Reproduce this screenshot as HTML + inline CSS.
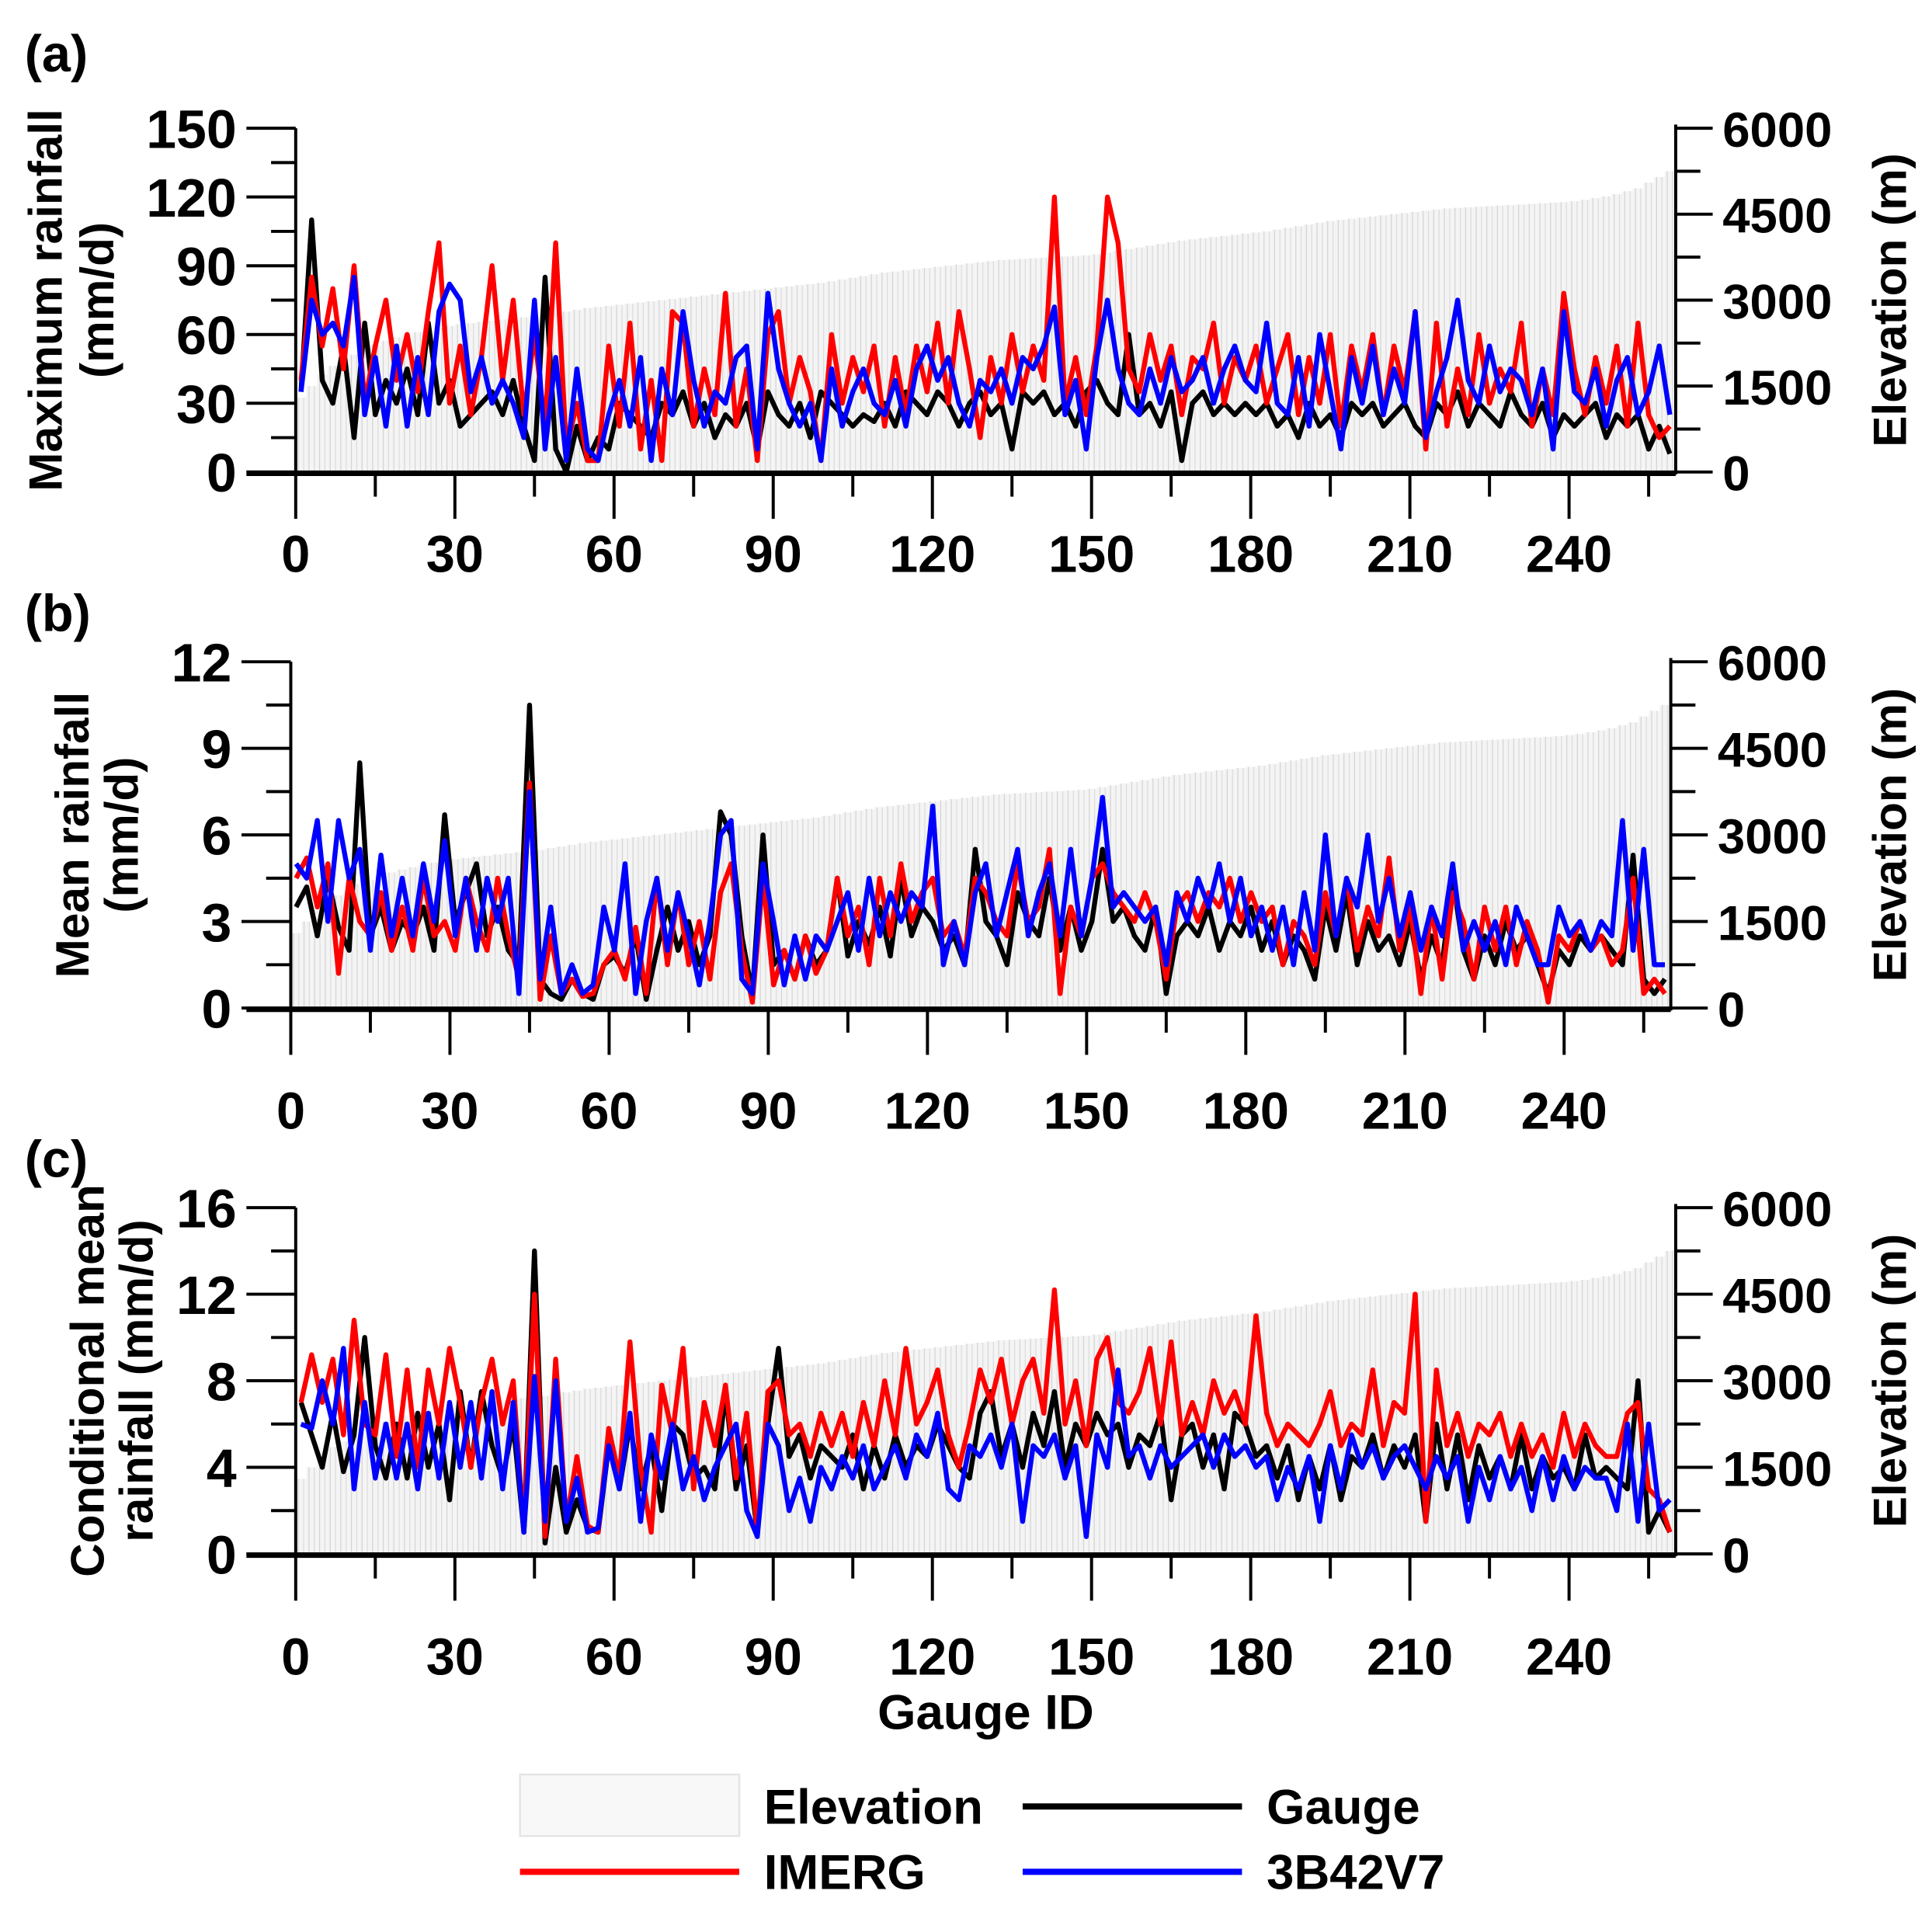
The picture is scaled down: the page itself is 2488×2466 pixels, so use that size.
<!DOCTYPE html>
<html><head><meta charset="utf-8"><style>
html,body{margin:0;padding:0;background:#fff}
svg{display:block}
text{font-family:"Liberation Sans",Arial,sans-serif;font-weight:bold;fill:#000}
</style></head><body>
<svg id="chart" width="2488" height="2466" viewBox="0 0 1568 1554" xmlns="http://www.w3.org/2000/svg">
<g id="legend">
<rect x="422" y="1440" width="178" height="50" fill="#f8f8f8" stroke="#e4e4e4" stroke-width="1.5"/>
<text x="620" y="1480" font-size="40">Elevation</text>
<line x1="830" y1="1466" x2="1008" y2="1466" stroke="#000" stroke-width="5"/>
<text x="1028" y="1480" font-size="40">Gauge</text>
<line x1="422" y1="1519" x2="600" y2="1519" stroke="#ff0000" stroke-width="5"/>
<text x="620" y="1533" font-size="40">IMERG</text>
<line x1="830" y1="1519" x2="1008" y2="1519" stroke="#0000ff" stroke-width="5"/>
<text x="1028" y="1533" font-size="40">3B42V7</text>
</g>
<text x="800" y="1403" font-size="40" text-anchor="middle">Gauge ID</text>
</svg>
<script>
const gaugeIds = [1,3,5,7,9,11,13,15,17,19,21,23,25,27,29,31,33,35,37,39,41,43,45,47,49,51,53,55,57,59,61,63,65,67,69,71,73,75,77,79,81,83,85,87,89,91,93,95,97,99,101,103,105,107,109,111,113,115,117,119,121,123,125,127,129,131,133,135,137,139,141,143,145,147,149,151,153,155,157,159,161,163,165,167,169,171,173,175,177,179,181,183,185,187,189,191,193,195,197,199,201,203,205,207,209,211,213,215,217,219,221,223,225,227,229,231,233,235,237,239,241,243,245,247,249,251,253,255,257,259];
const elevation = [1300,1500,1700,1850,1950,2050,2150,2220,2290,2350,2400,2440,2480,2520,2550,2580,2600,2620,2640,2660,2680,2700,2720,2740,2770,2800,2830,2860,2880,2900,2920,2940,2960,2980,3000,3020,3040,3060,3080,3100,3120,3140,3160,3180,3200,3220,3240,3260,3280,3300,3330,3360,3390,3420,3450,3480,3500,3520,3540,3560,3580,3600,3620,3640,3660,3680,3700,3710,3720,3730,3740,3750,3760,3770,3780,3800,3830,3860,3890,3920,3950,3980,4010,4040,4060,4080,4100,4120,4140,4160,4180,4200,4230,4260,4290,4320,4350,4380,4400,4420,4440,4460,4480,4500,4520,4540,4560,4580,4600,4610,4620,4630,4640,4650,4660,4670,4680,4690,4700,4710,4730,4750,4780,4810,4850,4900,4950,5050,5150,5250];

const maxGauge = [35,110,40,30,55,15,65,25,40,30,45,25,65,30,40,20,25,30,35,25,40,20,5,85,10,0,20,5,15,10,30,25,20,15,30,25,35,20,30,15,25,20,30,10,35,25,20,30,15,35,30,25,20,25,22,30,20,35,30,25,35,30,20,30,35,25,30,10,35,30,35,25,30,20,35,40,30,25,60,25,30,20,35,5,30,35,25,30,25,30,25,30,20,25,15,30,20,25,15,30,25,30,20,25,30,20,15,30,25,35,20,30,25,20,35,25,20,30,15,25,20,25,30,15,25,20,25,10,20,8];
const maxImerg = [40,85,55,80,45,90,30,55,75,40,60,35,70,100,30,55,25,50,90,40,75,25,60,20,100,10,30,5,5,55,20,65,10,40,5,70,65,20,45,25,78,20,45,5,60,70,30,50,35,5,60,30,50,35,55,20,50,25,55,35,65,30,70,45,15,50,30,60,35,55,40,120,30,50,25,55,120,100,45,35,60,40,55,25,50,45,65,30,50,40,55,30,45,60,25,50,30,60,20,55,35,60,25,55,35,70,10,65,20,45,25,60,30,45,35,65,20,45,25,78,45,25,50,30,55,20,65,25,15,20];
const max3b42 = [35,75,60,65,55,85,25,50,20,55,20,50,25,70,82,75,35,50,30,40,30,15,75,10,50,5,45,10,5,25,40,20,50,5,45,25,70,40,20,35,30,50,55,10,78,45,30,20,30,5,45,20,35,45,30,25,40,20,45,55,40,50,30,20,40,35,45,30,50,45,55,72,25,40,10,50,75,45,30,25,45,30,50,35,40,50,30,45,55,40,35,65,30,25,50,20,60,35,10,50,30,55,25,45,30,70,15,35,50,75,40,30,55,35,45,40,25,45,10,70,35,30,45,20,40,50,25,35,55,25];

const meanGauge = [3.5,4.2,2.5,4.5,2.8,2.0,8.5,2.5,3.5,2.0,3.0,2.5,3.5,2.0,6.7,3.0,4.0,5.0,2.5,3.5,2.0,1.5,10.5,1.0,0.5,0.3,1.0,0.5,0.3,1.5,1.8,1.2,2.5,0.3,2.0,3.5,2.0,3.0,1.5,2.5,6.8,6.0,2.5,0.5,6.0,1.5,2.0,1.0,2.5,1.5,2.0,4.5,1.8,3.0,2.2,3.5,1.8,4.5,2.5,3.5,3.0,2.0,2.5,1.5,5.5,3.0,2.5,1.5,4.0,3.0,2.5,4.5,2.0,3.5,2.0,3.0,5.5,3.0,3.5,2.5,2.0,3.5,0.5,2.5,3.0,2.5,3.5,2.0,3.0,2.5,3.5,2.0,3.0,1.5,2.5,2.0,1.0,3.5,2.0,4.0,1.5,3.0,2.0,2.5,1.5,3.0,1.0,2.5,1.5,4.5,2.0,1.0,2.5,1.5,3.0,2.0,2.5,1.5,0.5,2.0,1.5,2.5,2.0,2.5,2.0,1.5,5.3,1.0,0.5,1.0];
const meanImerg = [4.5,5.2,3.5,5.0,1.2,4.5,3.0,2.5,4.0,2.0,3.5,2.0,4.5,2.5,3.0,2.0,4.5,3.0,2.0,4.5,2.5,1.0,7.8,0.3,2.5,0.5,1.0,0.4,0.5,1.5,2.0,1.0,2.8,0.5,4.5,1.5,4.0,1.5,3.0,1.0,4.0,5.0,2.0,0.2,4.5,0.8,2.0,1.0,2.5,1.2,2.0,4.5,2.5,3.5,1.5,4.5,2.5,5.0,3.0,4.0,4.5,2.5,3.0,1.8,4.5,4.0,3.0,2.5,5.0,3.0,3.5,5.5,0.5,3.5,2.5,4.5,5.0,4.0,3.5,3.0,4.0,3.0,1.0,3.5,4.0,3.0,4.0,3.5,4.5,3.0,4.0,3.0,3.5,1.5,3.0,2.5,1.5,4.0,2.5,4.5,2.0,3.5,2.5,5.2,2.0,3.5,0.5,3.5,1.0,4.0,3.0,1.0,3.5,2.0,3.5,1.5,3.0,2.0,0.2,2.5,2.0,3.0,2.0,2.5,1.5,2.0,4.5,0.5,1.0,0.5];
const mean3b42 = [5.0,4.5,6.5,3.0,6.5,4.5,5.5,2.0,5.3,2.5,4.5,2.5,5.0,3.0,5.8,2.5,4.5,2.0,4.5,3.0,4.5,0.5,7.5,1.0,3.5,0.5,1.5,0.5,0.8,3.5,2.0,5.0,0.5,3.0,4.5,2.0,4.0,2.5,0.8,3.0,6.0,6.5,1.0,0.5,5.0,3.0,0.8,2.5,1.0,2.5,2.0,3.0,4.0,2.0,4.5,2.5,4.0,3.0,4.0,3.5,7.0,1.5,3.0,1.5,4.0,5.0,2.5,4.0,5.5,2.5,4.0,5.0,2.5,5.5,2.5,4.5,7.3,3.5,4.0,3.5,3.0,3.5,1.5,4.0,3.0,4.5,3.5,5.0,3.0,4.5,2.5,3.5,2.0,3.5,1.5,4.0,2.0,6.0,2.5,4.5,3.5,6.0,3.0,4.5,2.5,4.0,2.0,3.5,2.5,5.0,2.0,3.0,2.0,3.0,1.5,3.5,2.5,1.5,1.5,3.5,2.5,3.0,2.0,3.0,2.5,6.5,2.0,5.5,1.5,1.5];

const condGauge = [7.0,5.5,4.0,6.5,3.8,5.5,10.0,5.0,3.5,6.0,3.5,6.5,4.0,6.0,2.5,7.5,4.0,7.5,5.0,3.5,6.0,1.0,14.0,0.5,4.0,1.0,2.5,1.2,1.0,5.0,3.0,6.0,3.0,5.0,2.0,6.0,5.5,3.5,4.0,3.0,7.5,3.0,5.0,1.0,6.0,9.5,4.5,5.5,3.5,5.0,4.5,4.0,5.5,3.0,5.0,3.5,5.5,4.0,5.0,4.5,6.0,5.0,4.0,3.5,6.5,7.5,4.5,6.0,4.0,6.5,5.0,7.5,4.0,6.0,5.0,6.5,5.5,6.0,4.0,5.5,5.0,6.5,2.5,5.5,6.0,4.0,5.5,3.0,6.5,6.0,4.5,5.0,3.5,5.0,2.5,4.5,3.0,5.0,2.5,4.5,4.0,5.5,3.5,5.0,4.0,5.5,1.5,6.0,3.0,5.5,2.5,5.0,3.5,4.5,3.0,5.5,3.0,4.5,3.5,4.0,3.0,5.5,3.5,4.0,3.5,3.0,8.0,1.0,2.0,1.0];
const condImerg = [7.0,9.2,7.0,9.0,5.5,10.8,6.0,5.5,9.2,4.5,8.5,4.0,8.5,6.0,9.5,7.0,4.0,7.0,9.0,6.0,8.0,1.0,12.0,0.8,9.0,1.5,4.5,1.3,1.0,5.8,3.5,9.8,4.0,1.0,7.8,5.5,9.5,3.0,7.0,5.0,7.8,3.5,6.5,1.0,7.5,8.0,5.5,6.0,4.5,6.5,5.0,6.5,4.5,7.0,5.0,8.0,5.5,9.5,6.0,7.0,8.5,5.5,4.0,6.0,8.5,7.0,9.0,6.0,8.0,9.0,6.5,12.2,6.0,8.0,5.0,9.0,10.0,7.0,6.5,7.5,9.5,6.0,9.8,5.5,7.0,5.5,8.0,6.5,7.5,6.0,11.0,6.5,5.0,6.0,5.5,5.0,6.0,7.5,5.0,6.0,5.5,8.5,5.0,7.0,6.5,12.0,1.5,8.5,5.0,6.5,4.5,6.0,5.5,6.5,4.5,6.0,4.5,5.5,4.0,6.5,4.5,6.0,5.0,4.5,4.5,6.5,7.0,3.0,2.5,1.0];
const cond3b42 = [6.0,5.8,8.0,6.0,9.5,3.0,7.0,3.5,6.0,3.5,6.0,3.0,6.5,3.5,7.0,4.0,7.0,3.5,7.5,3.0,7.0,1.0,8.2,1.5,8.0,1.5,3.5,1.0,1.2,5.0,3.0,6.5,1.5,5.5,3.5,6.0,3.0,4.5,2.5,4.0,5.0,6.0,2.0,0.8,6.0,5.0,2.0,3.5,1.5,4.0,3.0,4.5,3.5,5.0,3.0,4.0,5.0,3.5,5.5,4.5,6.5,3.0,2.5,5.0,4.5,5.5,4.0,6.0,1.5,5.0,4.5,5.5,3.5,5.0,0.8,5.5,4.0,8.5,4.5,5.0,3.5,5.0,4.0,4.5,5.0,5.5,4.0,5.5,4.5,5.0,4.0,4.5,2.5,4.0,3.0,4.5,1.5,5.0,3.0,5.5,4.0,5.0,3.5,4.5,5.0,4.0,3.0,4.5,3.5,4.5,1.5,4.0,2.5,4.5,3.0,4.0,2.0,4.5,2.5,4.5,3.0,4.0,3.5,3.5,2.0,6.0,1.5,6.0,2.0,2.5];

const xTickLabels = ["0","30","60","90","120","150","180","210","240"];
const panelALeftTicks = ["0","30","60","90","120","150"];
const panelBLeftTicks = ["0","3","6","9","12"];
const panelCLeftTicks = ["0","4","8","12","16"];
const rightTicks = ["0","1500","3000","4500","6000"];

const NS = "http://www.w3.org/2000/svg";
const svg = document.getElementById('chart');
function mk(tag, attrs, parent){ const e=document.createElementNS(NS,tag); for(const k in attrs) e.setAttribute(k,attrs[k]); (parent||svg).appendChild(e); return e; }

const panels = [
 {id:'a', letter:'(a)', ly:58, x0:240, xr:1360, y0:383, y1:104, ymax:150, yticks:panelALeftTicks, minorStep:15, titles:["Maximum rainfall","(mm/d)"], ser:[maxGauge,maxImerg,max3b42], tickLabY:464, titleX:[50,92]},
 {id:'b', letter:'(b)', ly:512, x0:236, xr:1356, y0:818, y1:537, ymax:12, yticks:panelBLeftTicks, minorStep:1.5, titles:["Mean rainfall","(mm/d)"], ser:[meanGauge,meanImerg,mean3b42], tickLabY:916, titleX:[72,112]},
 {id:'c', letter:'(c)', ly:955, x0:240, xr:1360, y0:1261, y1:980, ymax:16, yticks:panelCLeftTicks, minorStep:2, titles:["Conditional mean","rainfall (mm/d)"], ser:[condGauge,condImerg,cond3b42], tickLabY:1359, titleX:[84,124]}
];
const xPerUnit = 4.306;
const colors = ['#000000','#ff0000','#0000ff'];
const serNames = ['gauge','imerg','3b42v7'];

panels.forEach(p=>{
  const g = mk('g',{});
  
  
  const xs = v => p.x0 + v*xPerUnit;
  const ys = v => p.y0 - (v/p.ymax)*(p.y0-p.y1);
  const ye = v => p.y0 - (v/6000)*(p.y0-p.y1);
  const eg = mk('g',{},g);
  
  
  gaugeIds.forEach((id,i)=>{
    const r = mk('rect',{x:xs(id-1), y:ye(elevation[i]), width:2*xPerUnit, height:p.y0-ye(elevation[i]), fill:'#f4f4f4'},eg);
    
    
    mk('line',{x1:xs(id-0.5),x2:xs(id-0.5),y1:ye(elevation[i]),y2:p.y0,stroke:'#d4d4d4','stroke-width':0.8},eg);
    mk('line',{x1:xs(id+0.5),x2:xs(id+0.5),y1:ye(elevation[i]),y2:p.y0,stroke:'#dcdcdc','stroke-width':0.8},eg);
  });
  p.ser.forEach((arr,si)=>{
    const d = arr.map((v,i)=>(i?'L':'M')+xs(gaugeIds[i]).toFixed(2)+' '+ys(v).toFixed(2)).join(' ');
    const path = mk('path',{d:d, fill:'none', stroke:colors[si], 'stroke-width':4, 'stroke-linejoin':'round'},g);
    
    
  });
  const ax = mk('g',{stroke:'#000'},g);
  
  
  mk('line',{x1:p.x0,x2:p.x0,y1:p.y1,y2:p.y0+2,'stroke-width':2.5},ax);
  mk('line',{x1:p.xr,x2:p.xr,y1:p.y1-3,y2:p.y0+2,'stroke-width':2.5},ax);
  mk('line',{x1:200,x2:p.xr,y1:p.y0+1,y2:p.y0+1,'stroke-width':4.5},ax);
  for(let v=0; v<=p.ymax+1e-9; v+=p.minorStep){
    const major = Math.abs((v/(p.minorStep*2))-Math.round(v/(p.minorStep*2)))<1e-6;
    mk('line',{x1:major?p.x0-40:p.x0-20,x2:p.x0,y1:ys(v),y2:ys(v),'stroke-width':2.5},ax);
  }
  p.yticks.forEach((t,i)=>{
    const v = i*p.ymax/(p.yticks.length-1);
    const tx = mk('text',{x:p.x0-48, y:ys(v)+16, 'font-size':44, 'text-anchor':'end'},g);
    tx.textContent=t;
    
    
  });
  for(let v=0; v<=6000; v+=750){
    const major = v%1500===0;
    mk('line',{x1:p.xr,x2:major?p.xr+30:p.xr+20,y1:ye(v),y2:ye(v),'stroke-width':2.5},ax);
  }
  rightTicks.forEach((t,i)=>{
    const tx = mk('text',{x:p.xr+38, y:ye(i*1500)+15, 'font-size':40},g);
    tx.textContent=t;
    
    
  });
  for(let v=0; v<=255; v+=15){
    const major = v%30===0;
    mk('line',{x1:xs(v),x2:xs(v),y1:p.y0,y2:p.y0+(major?38:20),'stroke-width':2.5},ax);
  }
  xTickLabels.forEach((t,i)=>{
    const tx = mk('text',{x:xs(i*30), y:p.tickLabY, 'font-size':42, 'text-anchor':'middle'},g);
    tx.textContent=t;
    
    
  });
  const midY = (p.y0+p.y1)/2;
  p.titles.forEach((t,i)=>{
    const tx = mk('text',{x:p.titleX[i], y:midY, 'font-size':38, 'text-anchor':'middle', transform:`rotate(-90 ${p.titleX[i]} ${midY})`},g);
    tx.textContent=t;
    
    
  });
  const rx = 1547;
  const rt = mk('text',{x:rx, y:midY, 'font-size':38, 'text-anchor':'middle', transform:`rotate(-90 ${rx} ${midY})`},g);
  rt.textContent='Elevation (m)';
  
  
  const lt = mk('text',{x:20, y:p.ly, 'font-size':42},g);
  lt.textContent=p.letter;
  
  
});
</script>
</body></html>
